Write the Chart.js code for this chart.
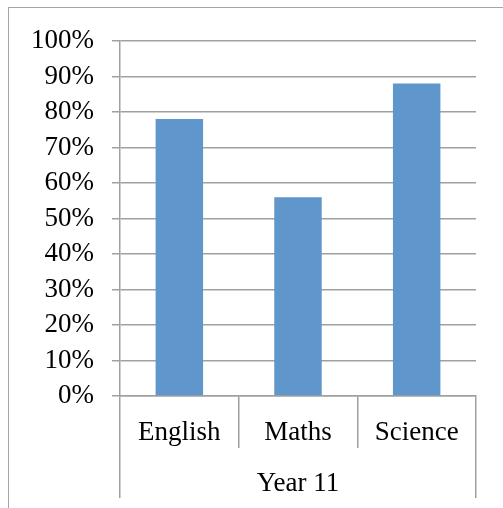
<!DOCTYPE html>
<html>
<head>
<meta charset="utf-8">
<script src="https://cdn.jsdelivr.net/npm/chart.js@4/dist/chart.umd.min.js"></script>
<style>
  html, body { margin: 0; padding: 0; background: #fff; overflow: hidden; }
  #frame { position: absolute; left: 8px; top: 7px; width: 700px; height: 700px; border: 1.5px solid #a6a6a6; }
  #wrap { position: absolute; left: 0; top: 0; width: 503px; height: 508px; }
</style>
</head>
<body>
<div id="frame"></div>
<div id="wrap"><canvas id="chart"></canvas></div>
<script>
const subjects = ['English', 'Maths', 'Science'];
const groups = ['Year 11'];
const scores = [78, 56, 88];

const GRID = '#a0a0a0';
const FONT = { family: "'Liberation Serif', serif", size: 27 };

new Chart(document.getElementById('chart'), {
  type: 'bar',
  data: {
    labels: subjects,
    datasets: [{
      data: scores,
      backgroundColor: '#5f96cc',
      barPercentage: 0.4, categoryPercentage: 1,
      xAxisID: 'x', yAxisID: 'y',
    }],
  },
  options: {
    responsive: true, maintainAspectRatio: false, animation: false,
    layout: { padding: { left: 0, right: 27, top: 41, bottom: 10 } },
    plugins: { legend: { display: false }, tooltip: { enabled: false } },
    scales: {
      y: {
        min: 0, max: 100,
        ticks: { stepSize: 10, color: '#000', font: FONT, padding: 18, callback: v => v + '%' },
        grid: { color: GRID, lineWidth: 1.5, tickLength: 8 },
        border: { color: GRID, width: 1.5 },
        afterFit: s => { s.width = 120; },
      },
      x: {
        position: 'bottom',
        offset: true,
        ticks: { color: '#000', font: FONT, padding: -31, maxRotation: 0 },
        grid: { offset: true, drawOnChartArea: false, color: GRID, lineWidth: 1.5, tickLength: 52 },
        border: { color: GRID, width: 1.5 },
        afterFit: s => { s.height = 52; },
      },
      x2: {
        type: 'category', position: 'bottom',
        labels: groups,
        offset: true,
        ticks: { color: '#000', font: FONT, padding: -30, maxRotation: 0 },
        grid: { offset: true, drawOnChartArea: false, color: GRID, lineWidth: 1.5, tickLength: 50 },
        border: { display: false },
        afterFit: s => { s.height = 50; },
      },
    },
  },
});
</script>
</body>
</html>
